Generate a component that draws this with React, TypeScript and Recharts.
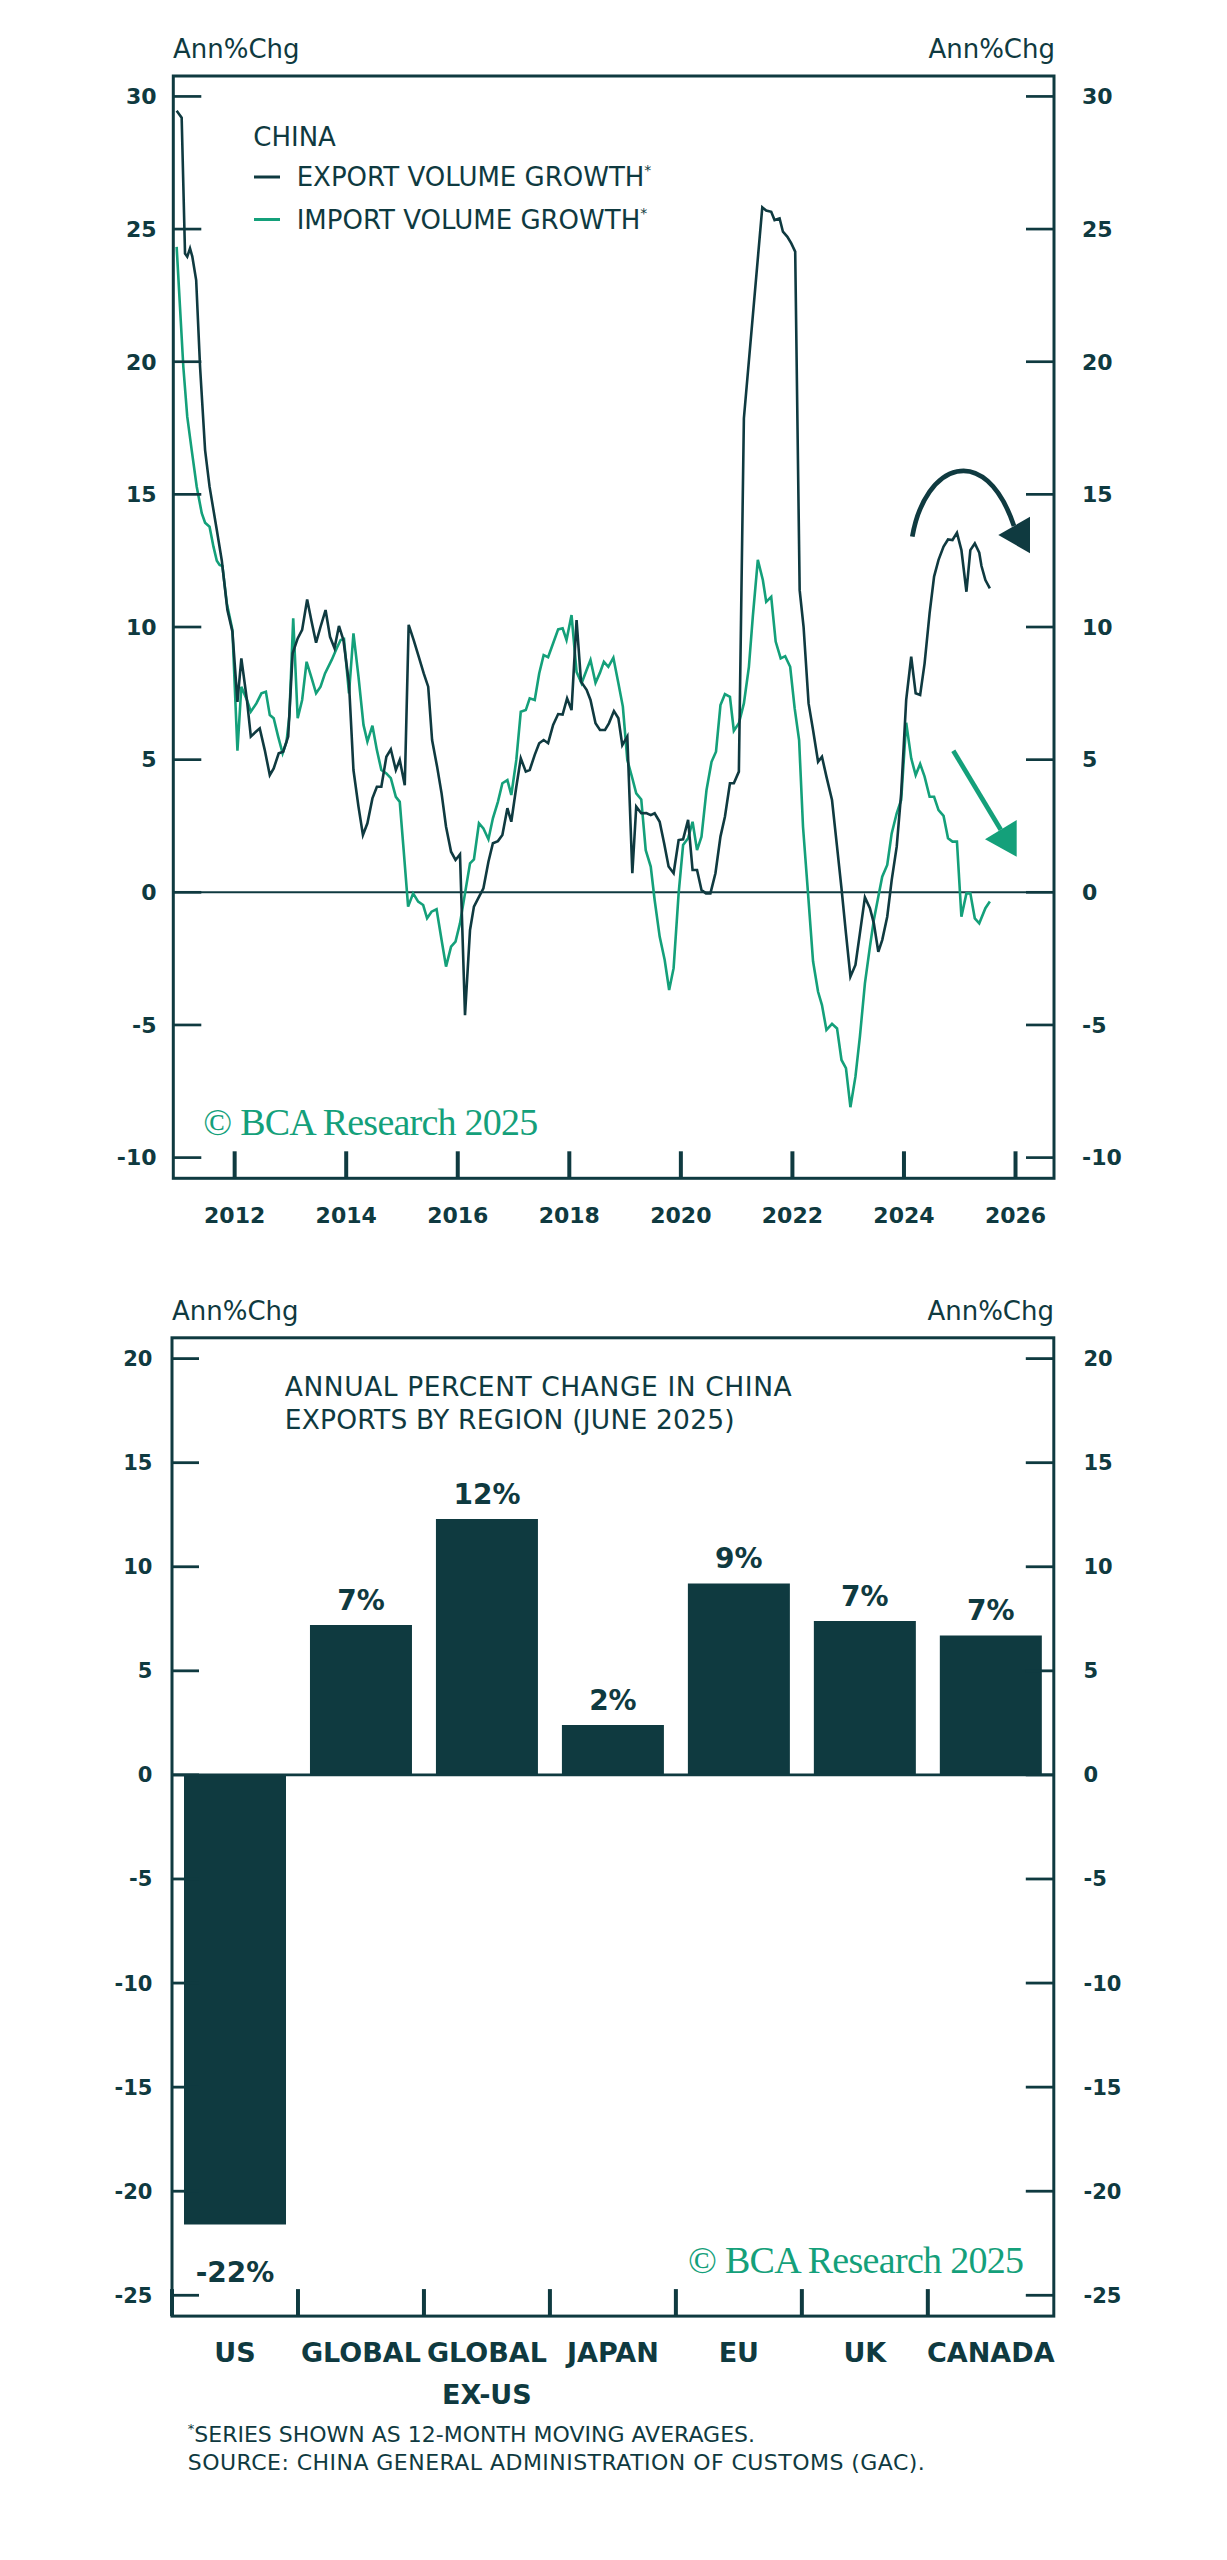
import {
  Bar,
  BarChart,
  LabelList,
  Line,
  LineChart,
  ReferenceLine,
  XAxis,
  YAxis,
} from "recharts";

const DARK = "#0f3a40";
const GREEN = "#14a07a";
const FONT = "'DejaVu Sans', sans-serif";
const SERIF = "'Liberation Serif', 'DejaVu Serif', serif";

// China export volume growth, 12m avg (year, %)
const EXPORT_SERIES: [number, number][] = [
  [2010.96, 29.46], [2011.05, 29.2], [2011.11, 24.08], [2011.15, 23.96], [2011.2, 24.27],
  [2011.24, 23.97], [2011.31, 23.08], [2011.38, 19.8], [2011.47, 16.67], [2011.55, 15.29],
  [2011.68, 13.66], [2011.77, 12.5], [2011.87, 10.64], [2011.96, 9.82], [2012.05, 7.18],
  [2012.12, 8.82], [2012.22, 7.25], [2012.29, 5.87], [2012.38, 6.05], [2012.45, 6.18],
  [2012.54, 5.36], [2012.63, 4.42], [2012.7, 4.67], [2012.79, 5.24], [2012.87, 5.3],
  [2012.96, 5.87], [2013.04, 9.01], [2013.13, 9.57], [2013.21, 9.89], [2013.3, 11.04],
  [2013.38, 10.2], [2013.46, 9.41], [2013.54, 10.01], [2013.63, 10.64], [2013.71, 9.63],
  [2013.79, 9.2], [2013.87, 10.04], [2013.95, 9.51], [2014.05, 7.88], [2014.13, 4.61],
  [2014.22, 3.23], [2014.3, 2.16], [2014.38, 2.6], [2014.47, 3.54], [2014.55, 3.98],
  [2014.63, 3.98], [2014.72, 5.11], [2014.8, 5.39], [2014.89, 4.61], [2014.96, 4.99],
  [2015.05, 4.04], [2015.12, 10.08], [2015.21, 9.51], [2015.3, 8.88], [2015.39, 8.25],
  [2015.47, 7.75], [2015.54, 5.74], [2015.63, 4.73], [2015.71, 3.73], [2015.79, 2.47],
  [2015.88, 1.53], [2015.96, 1.22], [2016.04, 1.43], [2016.13, -4.63], [2016.22, -1.42],
  [2016.29, -0.54], [2016.38, -0.17], [2016.46, 0.15], [2016.55, 1.15], [2016.63, 1.85],
  [2016.72, 1.93], [2016.8, 2.16], [2016.89, 3.17], [2016.96, 2.66], [2017.05, 3.98],
  [2017.13, 5.05], [2017.22, 4.55], [2017.29, 4.61], [2017.38, 5.18], [2017.46, 5.62],
  [2017.54, 5.74], [2017.62, 5.62], [2017.71, 6.31], [2017.8, 6.72], [2017.88, 6.7],
  [2017.96, 7.31], [2018.04, 6.87], [2018.13, 10.26], [2018.21, 7.94], [2018.31, 7.63],
  [2018.38, 7.25], [2018.47, 6.37], [2018.55, 6.12], [2018.64, 6.12], [2018.71, 6.37],
  [2018.8, 6.83], [2018.88, 6.56], [2018.95, 5.55], [2019.04, 5.87], [2019.13, 0.72],
  [2019.2, 3.23], [2019.29, 2.98], [2019.38, 2.99], [2019.46, 2.91], [2019.53, 2.98],
  [2019.62, 2.66], [2019.7, 1.85], [2019.78, 0.97], [2019.87, 0.72], [2019.96, 1.97],
  [2020.04, 2.0], [2020.13, 2.73], [2020.21, 0.84], [2020.29, 0.84], [2020.37, 0.09],
  [2020.45, -0.04], [2020.53, -0.04], [2020.62, 0.72], [2020.71, 2.1], [2020.79, 2.85],
  [2020.88, 4.11], [2020.95, 4.11], [2021.04, 4.55], [2021.13, 17.87], [2021.46, 25.82],
  [2021.53, 25.7], [2021.62, 25.65], [2021.68, 25.34], [2021.77, 25.4], [2021.83, 24.9],
  [2021.91, 24.71], [2021.98, 24.46], [2022.05, 24.15], [2022.13, 11.39], [2022.2, 10.01],
  [2022.29, 7.12], [2022.37, 6.12], [2022.46, 4.92], [2022.53, 5.11], [2022.61, 4.36],
  [2022.71, 3.48], [2022.8, 1.72], [2022.88, 0.15], [2022.96, -1.55], [2023.04, -3.18],
  [2023.13, -2.74], [2023.21, -1.55], [2023.3, -0.19], [2023.39, -0.6], [2023.46, -1.17],
  [2023.54, -2.24], [2023.61, -1.8], [2023.7, -0.92], [2023.78, 0.46], [2023.87, 1.72],
  [2023.95, 3.73], [2024.04, 7.25], [2024.13, 8.88], [2024.21, 7.5], [2024.29, 7.44],
  [2024.37, 8.63], [2024.46, 10.52], [2024.54, 11.9], [2024.62, 12.53], [2024.71, 13.03],
  [2024.79, 13.3], [2024.87, 13.28], [2024.95, 13.55], [2025.03, 12.9], [2025.12, 11.33],
  [2025.19, 12.9], [2025.27, 13.15], [2025.35, 12.8], [2025.39, 12.3], [2025.46, 11.77],
  [2025.54, 11.46],
];

// China import volume growth, 12m avg (year, %)
const IMPORT_SERIES: [number, number][] = [
  [2010.96, 24.33], [2011.02, 22.07], [2011.08, 19.8], [2011.15, 17.93], [2011.23, 16.67],
  [2011.32, 15.29], [2011.41, 14.29], [2011.47, 13.93], [2011.55, 13.78], [2011.62, 13.03],
  [2011.68, 12.5], [2011.73, 12.34], [2011.78, 12.3], [2011.86, 10.89], [2011.96, 9.89],
  [2012.05, 5.34], [2012.12, 7.75], [2012.22, 7.25], [2012.29, 6.81], [2012.39, 7.12],
  [2012.48, 7.5], [2012.56, 7.56], [2012.63, 6.68], [2012.7, 6.56], [2012.78, 5.87],
  [2012.86, 5.24], [2012.93, 5.68], [2012.98, 6.62], [2013.05, 10.33], [2013.13, 6.56],
  [2013.21, 7.25], [2013.29, 8.69], [2013.38, 8.07], [2013.46, 7.5], [2013.54, 7.75],
  [2013.62, 8.25], [2013.74, 8.76], [2013.83, 9.2], [2013.9, 9.51], [2013.96, 9.55],
  [2014.05, 7.5], [2014.13, 9.76], [2014.22, 8.13], [2014.31, 6.31], [2014.38, 5.68],
  [2014.47, 6.28], [2014.55, 5.36], [2014.63, 4.61], [2014.72, 4.48], [2014.8, 4.3],
  [2014.89, 3.6], [2014.96, 3.41], [2015.03, 1.59], [2015.11, -0.54], [2015.2, -0.04],
  [2015.29, -0.35], [2015.38, -0.48], [2015.45, -0.98], [2015.53, -0.73], [2015.62, -0.64],
  [2015.71, -1.8], [2015.79, -2.8], [2015.88, -2.05], [2015.96, -1.86], [2016.04, -1.17],
  [2016.13, -0.04], [2016.22, 1.09], [2016.29, 1.24], [2016.38, 2.6], [2016.46, 2.41],
  [2016.55, 2.0], [2016.63, 2.79], [2016.72, 3.41], [2016.8, 4.11], [2016.89, 4.23],
  [2016.96, 3.67], [2017.05, 4.99], [2017.13, 6.81], [2017.22, 6.87], [2017.29, 7.31],
  [2017.38, 7.25], [2017.46, 8.25], [2017.54, 8.94], [2017.62, 8.86], [2017.71, 9.39],
  [2017.8, 9.91], [2017.88, 9.95], [2017.95, 9.51], [2018.04, 10.45], [2018.13, 8.31],
  [2018.22, 7.88], [2018.31, 8.38], [2018.38, 8.76], [2018.47, 7.9], [2018.55, 8.28],
  [2018.62, 8.69], [2018.7, 8.5], [2018.79, 8.84], [2018.88, 7.88], [2018.96, 7.0],
  [2019.04, 4.99], [2019.13, 4.3], [2019.2, 3.73], [2019.29, 3.5], [2019.37, 1.59],
  [2019.46, 0.97], [2019.53, -0.29], [2019.62, -1.67], [2019.71, -2.55], [2019.79, -3.68],
  [2019.87, -2.86], [2019.96, -0.04], [2020.04, 1.78], [2020.13, 2.04], [2020.21, 2.66],
  [2020.29, 1.59], [2020.37, 2.1], [2020.46, 3.86], [2020.55, 4.92], [2020.63, 5.3],
  [2020.71, 7.06], [2020.79, 7.47], [2020.88, 7.37], [2020.95, 6.09], [2021.04, 6.37],
  [2021.13, 7.12], [2021.22, 8.5], [2021.29, 10.39], [2021.38, 12.53], [2021.47, 11.77],
  [2021.53, 10.95], [2021.62, 11.14], [2021.7, 9.45], [2021.79, 8.82], [2021.87, 8.9],
  [2021.96, 8.5], [2022.04, 6.94], [2022.12, 5.74], [2022.19, 2.47], [2022.28, -0.04],
  [2022.37, -2.6], [2022.46, -3.75], [2022.53, -4.25], [2022.61, -5.19], [2022.71, -4.96],
  [2022.8, -5.13], [2022.88, -6.32], [2022.96, -6.63], [2023.04, -8.1], [2023.13, -6.95],
  [2023.21, -5.44], [2023.3, -3.43], [2023.39, -2.05], [2023.46, -1.04], [2023.54, -0.17],
  [2023.61, 0.59], [2023.7, 1.03], [2023.78, 2.22], [2023.87, 2.98], [2023.95, 3.48],
  [2024.04, 6.39], [2024.13, 5.05], [2024.21, 4.42], [2024.29, 4.84], [2024.37, 4.36],
  [2024.46, 3.6], [2024.54, 3.6], [2024.62, 3.1], [2024.71, 2.88], [2024.79, 2.04],
  [2024.87, 1.91], [2024.95, 1.91], [2025.03, -0.92], [2025.12, -0.04], [2025.19, -0.04],
  [2025.27, -0.98], [2025.35, -1.17], [2025.46, -0.6], [2025.54, -0.35],
];

const YEAR_TICKS = [2012, 2014, 2016, 2018, 2020, 2022, 2024, 2026];
const LINE_Y_TICKS = [-10, -5, 0, 5, 10, 15, 20, 25, 30];

// exports by region, June 2025
const REGIONS = ["US", "GLOBAL", "GLOBAL\nEX-US", "JAPAN", "EU", "UK", "CANADA"];
const REGION_CHANGES = [-21.6, 7.2, 12.3, 2.4, 9.2, 7.4, 6.7];
const BAR_Y_TICKS = [-25, -20, -15, -10, -5, 0, 5, 10, 15, 20];

// layout of the two plot boxes (page px)
const TOP_BOX = { left: 173.3, right: 1054, top: 76, bottom: 1178.3 };
const BAR_TOP_OFFSET = 1250;
const BAR_BOX = { left: 172, right: 1053.8, top: 1337.8, bottom: 2316.1 };
const BAND = (BAR_BOX.right - BAR_BOX.left) / REGIONS.length;

const tickText = (size: number) => ({
  fill: DARK,
  fontSize: size,
  fontWeight: 700,
  fontFamily: FONT,
});

function RegionTick(props: any) {
  const { x, y, payload } = props;
  const lines = String(payload.value).split("\n");
  const edge = x - BAND / 2;
  return (
    <g>
      <line x1={edge} x2={edge} y1={y} y2={y - 27} stroke={DARK} strokeWidth={4} />
      <text
        x={x}
        y={y + 45.5}
        textAnchor="middle"
        fill={DARK}
        fontSize={27}
        fontWeight={700}
        fontFamily={FONT}
      >
        {lines.map((l, i) => (
          <tspan key={i} x={x} dy={i === 0 ? 0 : 42.4}>
            {l}
          </tspan>
        ))}
      </text>
    </g>
  );
}

function BarValueLabel(props: any) {
  const { x, y, width, height, value } = props;
  const top = Math.min(y, y + height);
  const bottom = Math.max(y, y + height);
  const cx = x + width / 2;
  const ty = value >= 0 ? top - 15 : bottom + 57;
  return (
    <text
      x={cx}
      y={ty}
      textAnchor="middle"
      fill={DARK}
      fontSize={28}
      fontWeight={700}
      fontFamily={FONT}
    >
      {`${Math.round(value)}%`}
    </text>
  );
}

export default function App() {
  const exportData = EXPORT_SERIES.map(([d, v]) => ({ d, v }));
  const importData = IMPORT_SERIES.map(([d, v]) => ({ d, v }));
  const barData = REGIONS.map((region, i) => ({ region, change: REGION_CHANGES[i] }));

  const lineChartH = 1260;
  const barChartH = 1200;

  return (
    <div
      style={{
        position: "absolute",
        left: 0,
        top: 0,
        width: 1227,
        height: 2560,
        background: "#fff",
        overflow: "hidden",
      }}
    >
      {/* top: export / import volume growth */}
      <div style={{ position: "absolute", left: 0, top: 0 }}>
        <LineChart
          width={1227}
          height={lineChartH}
          margin={{ top: TOP_BOX.top, right: 0, bottom: lineChartH - TOP_BOX.bottom - 60, left: 0 }}
        >
          <XAxis
            type="number"
            dataKey="d"
            domain={[2010.9, 2026.69]}
            allowDataOverflow
            ticks={YEAR_TICKS}
            interval={0}
            height={60}
            axisLine={false}
            tickSize={-27}
            tickMargin={55.8}
            tickLine={{ stroke: DARK, strokeWidth: 4 }}
            tick={tickText(22)}
          />
          <YAxis
            yAxisId="l"
            domain={[-10.78, 30.77]}
            allowDataOverflow
            ticks={LINE_Y_TICKS}
            interval={0}
            width={TOP_BOX.left}
            axisLine={false}
            tickSize={-28}
            tickMargin={44.8}
            tickLine={{ stroke: DARK, strokeWidth: 2.7 }}
            tick={tickText(22)}
          />
          <YAxis
            yAxisId="r"
            orientation="right"
            domain={[-10.78, 30.77]}
            allowDataOverflow
            ticks={LINE_Y_TICKS}
            interval={0}
            width={1227 - TOP_BOX.right}
            axisLine={false}
            tickSize={-28}
            tickMargin={56}
            tickLine={{ stroke: DARK, strokeWidth: 2.7 }}
            tick={tickText(22)}
          />
          <ReferenceLine yAxisId="l" y={0} stroke={DARK} strokeWidth={2} />
          <Line
            yAxisId="l"
            data={importData}
            dataKey="v"
            type="linear"
            stroke={GREEN}
            strokeWidth={2.6}
            dot={false}
            isAnimationActive={false}
          />
          <Line
            yAxisId="l"
            data={exportData}
            dataKey="v"
            type="linear"
            stroke={DARK}
            strokeWidth={2.6}
            dot={false}
            isAnimationActive={false}
          />
        </LineChart>
      </div>

      {/* bottom: exports by region */}
      <div style={{ position: "absolute", left: 0, top: BAR_TOP_OFFSET }}>
        <BarChart
          width={1227}
          height={barChartH}
          data={barData}
          barCategoryGap={12}
          margin={{
            top: BAR_BOX.top - BAR_TOP_OFFSET,
            right: 0,
            bottom: barChartH - (BAR_BOX.bottom - BAR_TOP_OFFSET) - 110,
            left: 0,
          }}
        >
          <XAxis
            dataKey="region"
            height={110}
            interval={0}
            axisLine={false}
            tickLine={false}
            tickSize={0}
            tickMargin={0}
            tick={<RegionTick />}
          />
          <YAxis
            yAxisId="l"
            domain={[-26, 21]}
            allowDataOverflow
            ticks={BAR_Y_TICKS}
            interval={0}
            width={BAR_BOX.left}
            axisLine={false}
            tickSize={-27}
            tickMargin={46.6}
            tickLine={{ stroke: DARK, strokeWidth: 2.8 }}
            tick={tickText(21)}
          />
          <YAxis
            yAxisId="r"
            orientation="right"
            domain={[-26, 21]}
            allowDataOverflow
            ticks={BAR_Y_TICKS}
            interval={0}
            width={1227 - BAR_BOX.right}
            axisLine={false}
            tickSize={-28}
            tickMargin={57.7}
            tickLine={{ stroke: DARK, strokeWidth: 2.8 }}
            tick={tickText(21)}
          />
          <Bar yAxisId="l" dataKey="change" fill={DARK} isAnimationActive={false}>
            <LabelList dataKey="change" content={<BarValueLabel />} />
          </Bar>
          <ReferenceLine yAxisId="l" y={0} stroke={DARK} strokeWidth={2.6} />
        </BarChart>
      </div>

      {/* frames, titles, legend, notes and arrows */}
      <svg
        width={1227}
        height={2560}
        style={{ position: "absolute", left: 0, top: 0, pointerEvents: "none" }}
        fontFamily={FONT}
      >
        <rect
          x={TOP_BOX.left}
          y={TOP_BOX.top}
          width={TOP_BOX.right - TOP_BOX.left}
          height={TOP_BOX.bottom - TOP_BOX.top}
          fill="none"
          stroke={DARK}
          strokeWidth={3}
        />
        <rect
          x={BAR_BOX.left}
          y={BAR_BOX.top}
          width={BAR_BOX.right - BAR_BOX.left}
          height={BAR_BOX.bottom - BAR_BOX.top}
          fill="none"
          stroke={DARK}
          strokeWidth={3}
        />

        <text x={173} y={58} fontSize={26} fill={DARK}>Ann%Chg</text>
        <text x={1055} y={58} fontSize={26} fill={DARK} textAnchor="end">Ann%Chg</text>

        <text x={253.3} y={146} fontSize={26} fill={DARK}>CHINA</text>
        <line x1={254} x2={280} y1={177} y2={177} stroke={DARK} strokeWidth={3} />
        <line x1={254} x2={280} y1={219.5} y2={219.5} stroke={GREEN} strokeWidth={3} />
        <text x={296.7} y={186} fontSize={26} fill={DARK}>
          EXPORT VOLUME GROWTH
          <tspan fontSize={14} dy={-11}>*</tspan>
        </text>
        <text x={296.7} y={229.3} fontSize={26} fill={DARK}>
          IMPORT VOLUME GROWTH
          <tspan fontSize={14} dy={-11}>*</tspan>
        </text>

        <text
          x={203.3}
          y={1135}
          fontSize={38}
          fontFamily={SERIF}
          fill={GREEN}
          textLength={335}
          lengthAdjust="spacing"
        >
          © BCA Research 2025
        </text>

        {/* export arrow */}
        <path
          d="M 912.3 536.7 C 925 463, 985 440, 1014 526"
          fill="none"
          stroke={DARK}
          strokeWidth={4.7}
        />
        <polygon points="998.3,535 1030,516.7 1030,553.3" fill={DARK} />
        {/* import arrow */}
        <line x1={953.3} y1={750.7} x2={1000.8} y2={829.7} stroke={GREEN} strokeWidth={4.7} />
        <polygon points="985,839.3 1016.7,820 1016.7,856.7" fill={GREEN} />

        <text x={172} y={1320.4} fontSize={26} fill={DARK}>Ann%Chg</text>
        <text x={1054} y={1320.4} fontSize={26} fill={DARK} textAnchor="end">Ann%Chg</text>
        <text x={284.7} y={1396.3} fontSize={26.5} fill={DARK} textLength={507} lengthAdjust="spacing">
          ANNUAL PERCENT CHANGE IN CHINA
        </text>
        <text x={284.7} y={1428.7} fontSize={26.5} fill={DARK} textLength={450} lengthAdjust="spacing">
          EXPORTS BY REGION (JUNE 2025)
        </text>

        <text
          x={688}
          y={2272.6}
          fontSize={38}
          fontFamily={SERIF}
          fill={GREEN}
          textLength={336}
          lengthAdjust="spacing"
        >
          © BCA Research 2025
        </text>

        <text x={187.8} y={2441.5} fontSize={22} fill={DARK}>
          <tspan fontSize={13} dy={-9}>*</tspan>
          <tspan dy={9}>SERIES SHOWN AS 12-MONTH MOVING AVERAGES.</tspan>
        </text>
        <text x={187.8} y={2470} fontSize={22} fill={DARK} textLength={737} lengthAdjust="spacing">
          SOURCE: CHINA GENERAL ADMINISTRATION OF CUSTOMS (GAC).
        </text>
      </svg>
    </div>
  );
}
